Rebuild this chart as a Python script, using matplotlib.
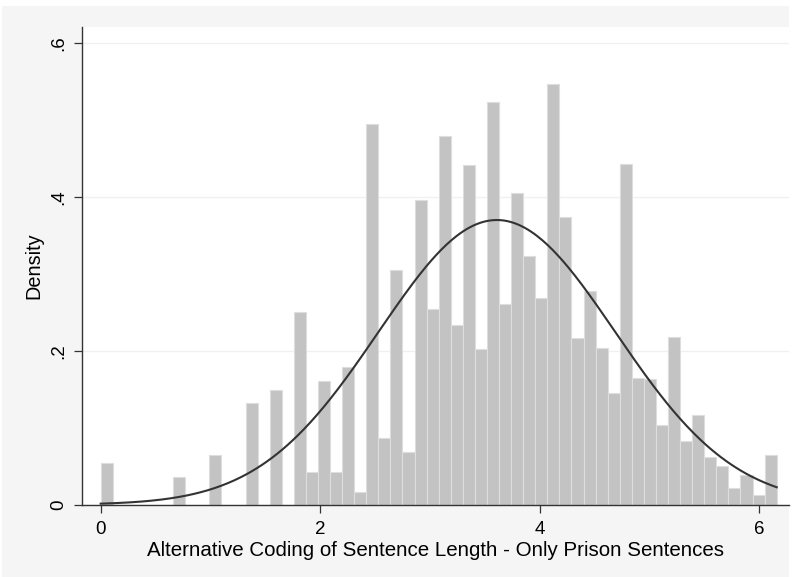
import numpy as np
import matplotlib.pyplot as plt
from matplotlib.patches import Rectangle

plt.rcParams['font.family'] = ['Liberation Sans', 'DejaVu Sans']

# histogram: 56 bins of equal width between the min and max of the variable
x_min, x_max = 0.0, 6.16
n_bins = 56
density = [
    0.054, 0, 0, 0, 0, 0, 0.036, 0, 0, 0.065,
    0, 0, 0.132, 0, 0.149, 0, 0.250, 0.043, 0.161, 0.043,
    0.179, 0.016, 0.494, 0.087, 0.305, 0.068, 0.396, 0.254, 0.479, 0.233,
    0.441, 0.202, 0.523, 0.261, 0.405, 0.323, 0.269, 0.546, 0.373, 0.216,
    0.278, 0.204, 0.145, 0.442, 0.165, 0.163, 0.103, 0.218, 0.083, 0.117,
    0.062, 0.050, 0.022, 0.039, 0.013, 0.065,
]

# fitted normal overlay
mu, sigma = 3.61, 1.079

yticks = [0, 0.2, 0.4, 0.6]
ytick_labels = ['0', '.2', '.4', '.6']
xticks = [0, 2, 4, 6]

edges = np.linspace(x_min, x_max, n_bins + 1)
width = edges[1] - edges[0]

fig = plt.figure(figsize=(8.02, 5.77), dpi=100, facecolor='white')
# light grey graph region behind the plot
fig.patches.append(Rectangle((0.003, 0), 0.981, 0.99, transform=fig.transFigure,
                             facecolor='#f5f5f5', edgecolor='none', zorder=-10))
ax = fig.add_axes([0.1022, 0.1253, 0.8816, 0.8279])
ax.set_facecolor('white')

ax.bar(edges[:-1], density, width=width, align='edge',
       color='#c3c3c3', edgecolor='#dedede', linewidth=0.8, zorder=2)

xs = np.linspace(x_min, x_max, 400)
pdf = np.exp(-0.5 * ((xs - mu) / sigma) ** 2) / (sigma * np.sqrt(2 * np.pi))
ax.plot(xs, pdf, color='#333333', linewidth=1.5, zorder=3)

ax.set_xlim(-0.1705, 6.272)
ax.set_ylim(0, 0.6204)
ax.set_xticks(xticks)
ax.set_yticks(yticks)
ax.set_yticklabels(ytick_labels, rotation=90, va='center')
ax.grid(axis='y', color='#f0f0f0', linewidth=1.0, zorder=0)
ax.set_axisbelow(True)

for side in ['top', 'right']:
    ax.spines[side].set_visible(False)
for side in ['left', 'bottom']:
    ax.spines[side].set_color('#333333')
    ax.spines[side].set_linewidth(1.0)
ax.tick_params(direction='out', length=5.5, width=0.9, color='#333333',
               labelsize=13.5)
ax.tick_params(axis='x', pad=6.5)
ax.tick_params(axis='y', pad=5)

ax.set_xlabel('Alternative Coding of Sentence Length - Only Prison Sentences',
              fontsize=14.8, labelpad=2)
ax.set_ylabel('Density', fontsize=14.3, labelpad=5)

fig.savefig('out.png', dpi=100, facecolor=fig.get_facecolor())
